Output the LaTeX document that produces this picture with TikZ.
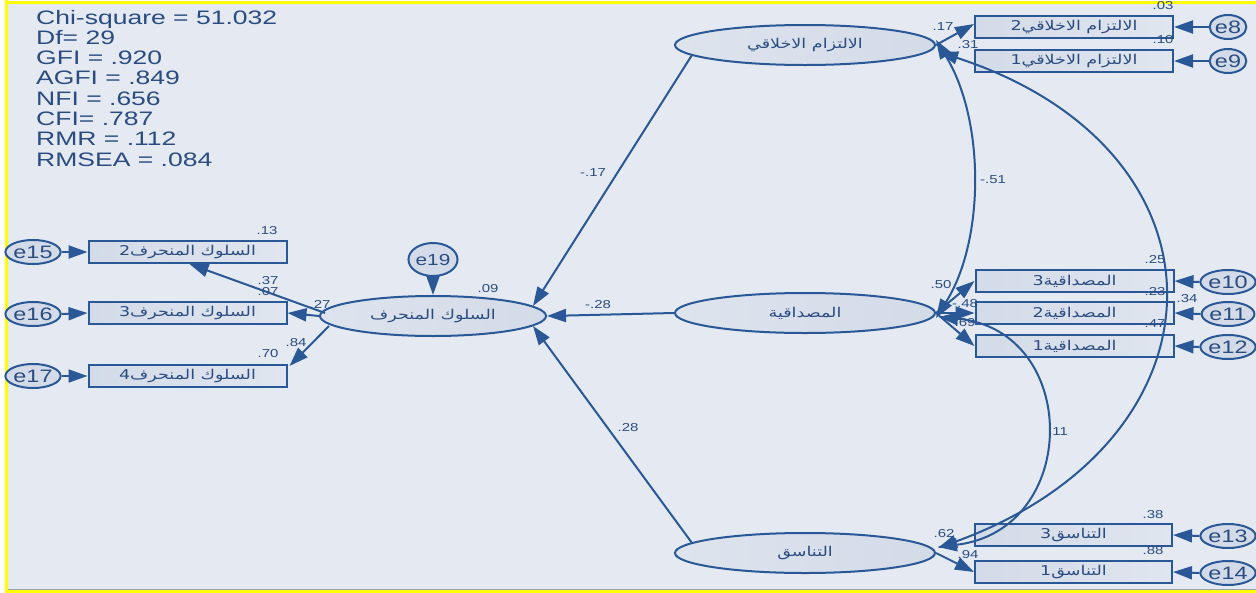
\documentclass[tikz,border=0pt]{standalone}
\usepackage{fontspec}
\setmainfont{Liberation Sans}
\newfontfamily\arabicfont[Script=Arabic]{DejaVu Sans}
\TeXXeTstate=1
\usetikzlibrary{arrows.meta,shapes.geometric}
\definecolor{semline}{HTML}{2A5896}
\definecolor{semtext}{HTML}{2A4C80}
\definecolor{panel}{HTML}{E4E9F2}
\definecolor{boxfill}{HTML}{D3DBE8}
\definecolor{frameyel}{HTML}{FFFF00}
\definecolor{framegrey}{HTML}{9AA3AE}
% horizontally widened text
\newcommand\wx[1]{\scalebox{1.3}[1]{#1}}
\newcommand\artxt[1]{\wx{\arabicfont\fontsize{13.5}{15}\selectfont\beginR #1\endR}}
\tikzset{
  lat/.style={ellipse, draw=semline, line width=2pt, left color=boxfill!75!white, right color=boxfill,
    minimum width=260pt, minimum height=40pt, inner sep=0pt, text=semtext},
  obs/.style={rectangle, draw=semline, line width=2pt, left color=boxfill, right color=boxfill!70!white,
    minimum width=198pt, minimum height=22pt, inner sep=0pt, text=semtext},
  err/.style={ellipse, draw=semline, line width=2pt, fill=boxfill, minimum width=34pt, minimum height=24pt,
    inner sep=0pt, text=semtext, font=\fontsize{18}{20}\selectfont},
  num/.style={inner sep=0pt, text=semtext, font=\fontsize{11.5}{13}\selectfont},
  stat/.style={inner sep=0pt, anchor=base west, text=semtext, font=\fontsize{19.5}{21}\selectfont},
  tip/.style={-{Triangle[length=19pt,width=13pt]}},
  reg/.style={draw=semline, line width=2pt, tip},
  cov/.style={draw=semline, line width=2pt, {Triangle[length=19pt,width=13pt]}-{Triangle[length=19pt,width=13pt]}}
}
\begin{document}
\begin{tikzpicture}[x=1pt, y=-1pt]
\useasboundingbox (0,0) rectangle (1256,592);
% frame and panel
\fill[white] (0,0) rectangle (1256,592);
\fill[panel] (7,4) rectangle (1256,589);
\draw[framegrey, line width=1pt] (7,589) -- (1256,589);
\draw[frameyel, line width=3pt] (5,2.5) -- (1256,2.5);
\draw[frameyel, line width=3pt] (6.5,0) -- (6.5,592);
\draw[frameyel, line width=3pt] (5,591) -- (1256,591);

% fit statistics
\foreach \t [count=\i] in {Chi-square = 51.032, Df= 29, GFI = .920, AGFI = .849, NFI = .656, CFI= .787, RMR = .112, RMSEA = .084}
  \node[stat] (fit\i) at (36,{24+20.3*(\i-1)}) {\scalebox{1.36}[1]{\t}};

% latent variables
\node[lat] (L1) at (805,45) {\artxt{الالتزام الاخلاقي}};
\node[lat] (L2) at (805,313) {\artxt{المصداقية}};
\node[lat] (L3) at (805,553) {\artxt{التناسق}};
\node[lat, minimum width=226pt] (L0) at (433,316) {\artxt{السلوك المنحرف}};

% observed variables
\node[obs] (B8) at (1074,27) {\artxt{الالتزام الاخلاقي2}};
\node[obs] (B9) at (1074,61) {\artxt{الالتزام الاخلاقي1}};
\node[obs] (B10) at (1074.5,281) {\artxt{المصداقية3}};
\node[obs] (B11) at (1074.5,313) {\artxt{المصداقية2}};
\node[obs] (B12) at (1074.5,346) {\artxt{المصداقية1}};
\node[obs, minimum width=197pt] (B13) at (1073.5,535) {\artxt{التناسق3}};
\node[obs, minimum width=197pt] (B14) at (1073.5,572) {\artxt{التناسق1}};
\node[obs] (B15) at (187.5,252) {\artxt{السلوك المنحرف2}};
\node[obs] (B16) at (187.5,313) {\artxt{السلوك المنحرف3}};
\node[obs] (B17) at (187.5,376) {\artxt{السلوك المنحرف4}};

% error terms
\node[err] (e8) at (1228,27) {\wx{e8}};
\node[err] (e9) at (1228,61) {\wx{e9}};
\node[err] (e10) at (1228,282) {\wx{e10}};
\node[err] (e11) at (1228,314) {\wx{e11}};
\node[err] (e12) at (1228,347) {\wx{e12}};
\node[err] (e13) at (1228,536) {\wx{e13}};
\node[err] (e14) at (1228,573) {\wx{e14}};
\node[err] (e15) at (33,252) {\wx{e15}};
\node[err] (e16) at (33,314) {\wx{e16}};
\node[err] (e17) at (33,376) {\wx{e17}};
\node[err, minimum width=42pt, minimum height=33pt, font=\fontsize{16}{18}\selectfont] (e19) at (433,259.5) {\wx{e19}};

% error paths
\foreach \e/\b in {e8/B8, e9/B9, e10/B10, e11/B11, e12/B12, e13/B13, e14/B14}
  \draw[reg] (\e.west) -- (\b.east);
\foreach \e/\b in {e15/B15, e16/B16, e17/B17}
  \draw[reg] (\e.east) -- (\b.west);
\draw[reg] (e19.south) -- (L0.north);

% measurement paths
\draw[reg] (L1.east) -- ([yshift=3pt]B8.west);
\draw[reg] (L2.east) -- (B10.west);
\draw[reg] (L2.east) -- (B11.west);
\draw[reg] (L2.east) -- (B12.west);
\draw[reg] (L3.east) -- (B14.west);
\draw[reg] ([shift={(6,-3)}]L0.west) -- ([xshift=2pt]B15.south);
\draw[reg] (L0.west) -- (B16.east);
\draw[reg] ([shift={(10,10)}]L0.west) -- ([shift={(2,2)}]B17.north east);

% structural paths
\draw[reg] ([shift={(18,10)}]L1.west) -- ([shift={(-14,-10)}]L0.east);
\draw[reg] (L2.west) -- (L0.east);
\draw[reg] ([shift={(18,-10)}]L3.west) -- ([shift={(-14,10)}]L0.east);

% covariances
\draw[cov] ([yshift=5pt]L1.east) .. controls (985,120) and (985,240) .. ([yshift=-5pt]L2.east);
\draw[cov] ([shift={(3,7)}]L1.east) .. controls (1240,150) and (1235,440) .. ([shift={(2,-5)}]L3.east);
\draw[cov] ([shift={(3,4)}]L2.east) .. controls (1081,330) and (1081,530) .. ([shift={(2,-6)}]L3.east);

% estimates
\foreach \p/\t [count=\i] in {
  {(1163,6)}/.03, {(943,27)}/.17, {(1163,40)}/.10, {(968,45)}/.31,
  {(593,173)}/-.17, {(993,180)}/-.51, {(267,231)}/.13, {(1155,260)}/.25,
  {(488,289)}/.09, {(941,285)}/.50, {(268,281)}/.37, {(268,292)}/.07,
  {(1155,292)}/.23, {(1187,299)}/.34, {(965,304)}/-.48, {(598,305)}/-.28,
  {(320,304)}/.27, {(965,323)}/.69, {(1155,324)}/.47, {(296,343)}/.84,
  {(268,354)}/.70, {(628,428)}/.28, {(1058,432)}/.11, {(1153,515)}/.38,
  {(944,534)}/.62, {(1153,551)}/.88, {(968,555)}/.94}
  \node[num] (est\i) at \p {\wx{\t}};
\end{tikzpicture}
\end{document}
